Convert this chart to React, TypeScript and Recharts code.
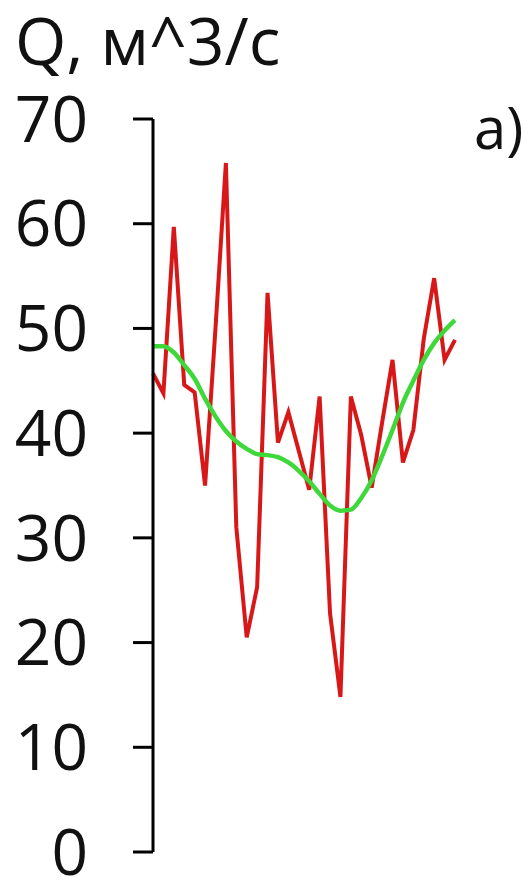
import React from "react";
import { LineChart, Line, XAxis, YAxis } from "recharts";

// Observation steps (30 points along the hidden x axis)
const steps = [
  1, 2, 3, 4, 5, 6, 7, 8, 9, 10, 11, 12, 13, 14, 15, 16, 17, 18, 19, 20, 21,
  22, 23, 24, 25, 26, 27, 28, 29, 30,
];

// Observed discharge, m^3/s
const observedFlow = [
  45.7, 43.8, 59.7, 44.6, 43.9, 35.0, 50.0, 65.8, 31.0, 20.5, 25.3, 53.4, 39.1,
  42.0, 38.3, 34.6, 43.5, 22.8, 14.8, 43.5, 39.8, 34.8, 41.0, 47.0, 37.2, 40.3,
  49.0, 54.8, 47.0, 48.9,
];

// Smoothed trend, m^3/s
const smoothedFlow = [
  48.3, 48.3, 47.7, 46.5, 45.2, 43.3, 41.6, 40.2, 39.2, 38.5, 38.0, 37.9, 37.7,
  37.2, 36.4, 35.4, 34.2, 33.1, 32.6, 32.7, 33.8, 35.5, 37.8, 40.3, 42.9, 45.0,
  47.0, 48.6, 49.8, 50.8,
];

const yTicks = [0, 10, 20, 30, 40, 50, 60, 70];

const FONT = "'Open Sans', sans-serif";

const chartData = steps.map((step, i) => ({
  step,
  observed: observedFlow[i],
  smoothed: smoothedFlow[i],
}));

const App: React.FC = () => {
  return (
    <div style={{ position: "relative", width: 524, height: 875 }}>
      <div
        style={{
          position: "absolute",
          left: 7,
          top: -2,
          fontFamily: FONT,
          fontSize: 66,
          lineHeight: "66px",
          color: "#111",
          whiteSpace: "nowrap",
        }}
      >
        Q, м^3/с
      </div>
      <div
        style={{
          position: "absolute",
          left: 466,
          top: 90,
          fontFamily: FONT,
          fontSize: 58,
          lineHeight: "58px",
          color: "#111",
        }}
      >
        а)
      </div>
      <LineChart
        width={524}
        height={875}
        data={chartData}
        margin={{ top: 111, right: 77, bottom: 31, left: 0 }}
      >
        <XAxis dataKey="step" hide />
        <YAxis
          width={145}
          domain={[0, 70]}
          ticks={yTicks}
          interval={0}
          axisLine={{ stroke: "#000", strokeWidth: 3 }}
          tickLine={{ stroke: "#000", strokeWidth: 3 }}
          tickSize={20}
          tickMargin={45}
          tick={{ fontSize: 64, fill: "#111", fontFamily: FONT }}
        />
        <Line
          type="linear"
          dataKey="observed"
          stroke="#d81818"
          strokeWidth={4}
          dot={false}
          isAnimationActive={false}
        />
        <Line
          type="monotone"
          dataKey="smoothed"
          stroke="#3fd83a"
          strokeWidth={4.5}
          dot={false}
          isAnimationActive={false}
        />
      </LineChart>
    </div>
  );
};

export default App;
